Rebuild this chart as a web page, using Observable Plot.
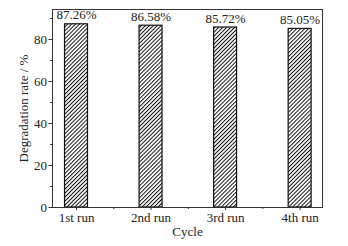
<!DOCTYPE html>
<html>
<head>
<meta charset="utf-8">
<script src="https://cdn.jsdelivr.net/npm/d3@7"></script>
<script src="https://cdn.jsdelivr.net/npm/@observablehq/plot@0.6"></script>
<style>
  html, body { margin: 0; padding: 0; background: #fff; }
  svg { font-family: "Liberation Serif", "DejaVu Serif", serif; }
</style>
</head>
<body>
<div id="chart"></div>
<script>
const cycles = ["1st run", "2nd run", "3rd run", "4th run"];
const rates = [87.26, 86.58, 85.72, 85.05];
const labels = ["87.26%", "86.58%", "85.72%", "85.05%"];
const yMajorTicks = [0, 20, 40, 60, 80];
const yMinorTicks = [10, 30, 50, 70, 90];
const xMinorTicks = [1.5, 2.5, 3.5];

const data = cycles.map((c, i) => ({cycle: c, idx: i + 1, rate: rates[i], label: labels[i]}));
const halfWidth = 0.154;

const chart = Plot.plot({
  width: 348,
  height: 246,
  marginLeft: 52,
  marginRight: 26,
  marginTop: 9,
  marginBottom: 39,
  style: {fontFamily: "Liberation Serif, serif", fontSize: "12px", color: "#222", background: "#fff"},
  x: {type: "linear", domain: [0.678, 4.3]},
  y: {domain: [0, 94.3]},
  marks: [
    Plot.rectY(data, {x1: d => d.idx - halfWidth, x2: d => d.idx + halfWidth, y1: 0, y2: "rate", fill: "url(#hatch)", stroke: "#111", strokeWidth: 1.2}),
    Plot.text(data, {x: "idx", y: "rate", text: "label", dy: -9, fontSize: 13, fill: "#222"}),
    Plot.frame({stroke: "#333", strokeWidth: 1}),
    Plot.axisY({ticks: yMajorTicks, tickSize: 3.5, tickPadding: 2, fontSize: 13, label: "Degradation rate / %", labelAnchor: "center", labelArrow: "none", labelOffset: 34, stroke: "#333"}),
    Plot.axisY({ticks: yMinorTicks, tickSize: 2, tickFormat: () => "", label: null, stroke: "#333"}),
    Plot.axisX({ticks: [1, 2, 3, 4], tickFormat: d => cycles[d - 1], tickSize: 3, tickPadding: 2, fontSize: 13, label: "Cycle", labelAnchor: "center", labelArrow: "none", labelOffset: 28, stroke: "#333"}),
    Plot.axisX({ticks: xMinorTicks, tickSize: 2, tickFormat: () => "", label: null, stroke: "#333"})
  ]
});

const ns = "http://www.w3.org/2000/svg";
const defs = document.createElementNS(ns, "defs");
const pat = document.createElementNS(ns, "pattern");
pat.setAttribute("id", "hatch");
pat.setAttribute("patternUnits", "userSpaceOnUse");
pat.setAttribute("width", "2.8");
pat.setAttribute("height", "2.8");
pat.setAttribute("patternTransform", "rotate(45)");
const bg = document.createElementNS(ns, "rect");
bg.setAttribute("width", "2.8"); bg.setAttribute("height", "2.8"); bg.setAttribute("fill", "#fff");
const ln = document.createElementNS(ns, "line");
ln.setAttribute("x1", "0.5"); ln.setAttribute("y1", "0"); ln.setAttribute("x2", "0.5"); ln.setAttribute("y2", "2.8");
ln.setAttribute("stroke", "#111"); ln.setAttribute("stroke-width", "1");
pat.appendChild(bg); pat.appendChild(ln);
defs.appendChild(pat);
chart.insertBefore(defs, chart.firstChild);

document.getElementById("chart").appendChild(chart);
</script>
</body>
</html>
